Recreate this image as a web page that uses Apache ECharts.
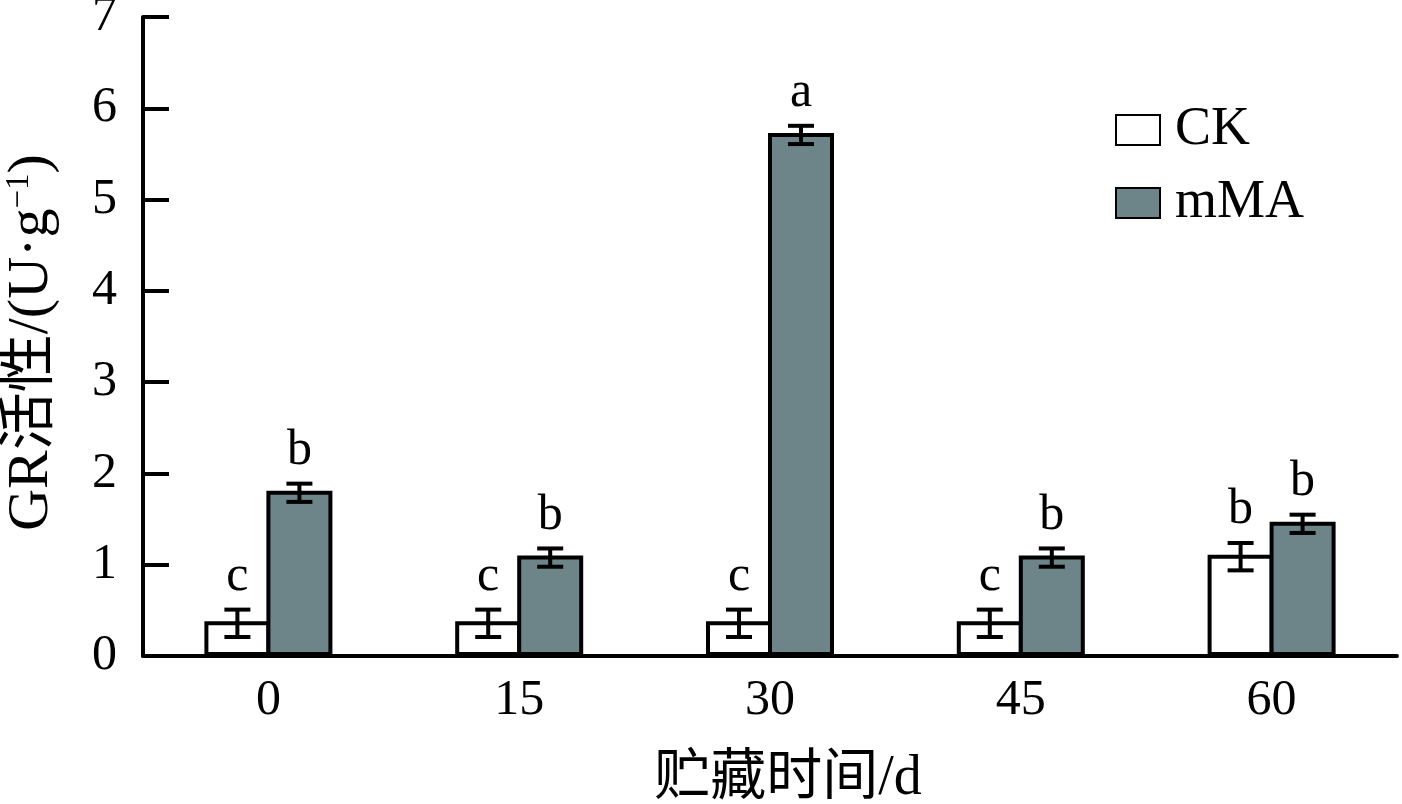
<!DOCTYPE html>
<html>
<head>
<meta charset="utf-8">
<script src="https://cdn.jsdelivr.net/npm/echarts@6/dist/echarts.min.js"></script>
<style>
  html, body { margin: 0; padding: 0; background: #fff; }
  #main { width: 1402px; height: 804px; }
</style>
</head>
<body>
<div id="main"></div>
<script>
// ---- data ----
const categories = ['0', '15', '30', '45', '60'];
const ckValues = [0.38, 0.38, 0.38, 0.38, 1.11];
const ckErr = [0.15, 0.15, 0.15, 0.15, 0.15];
const ckLetters = ['c', 'c', 'c', 'c', 'b'];
const mmaValues = [1.81, 1.10, 5.73, 1.10, 1.47];
const mmaErr = [0.10, 0.10, 0.10, 0.10, 0.10];
const mmaLetters = ['b', 'b', 'a', 'b', 'b'];
const yTicks = [0, 1, 2, 3, 4, 5, 6, 7];

const FONT = '"Liberation Serif", "Noto Sans CJK SC", serif';
const FS = 50;
const BAR_W = 66;
const BORDER = 4;

function errData(vals, errs, letters) {
  return vals.map((v, i) => [i, v, errs[i], letters[i]]);
}

function makeErrRender(sign) {
  return function (params, api) {
    const idx = api.value(0);
    const v = api.value(1);
    const e = api.value(2);
    const letter = api.value(3);
    const c = api.coord([idx, v]);
    const x = c[0] + sign * (BAR_W / 2 - BORDER / 2);
    const yTop = api.coord([idx, v + e])[1] + BORDER / 2;
    const yBot = api.coord([idx, v - e])[1] + BORDER / 2;
    const cap = 13;
    const ls = { stroke: '#000', lineWidth: 4 };
    return {
      type: 'group',
      children: [
        { type: 'line', shape: { x1: x, y1: yTop, x2: x, y2: yBot }, style: ls },
        { type: 'line', shape: { x1: x - cap, y1: yTop, x2: x + cap, y2: yTop }, style: ls },
        { type: 'line', shape: { x1: x - cap, y1: yBot, x2: x + cap, y2: yBot }, style: ls },
        { type: 'text', style: { text: letter, x: x, y: yTop - 8, textAlign: 'center', textVerticalAlign: 'bottom', fontSize: FS, fontFamily: FONT, fill: '#000' } }
      ]
    };
  };
}

const chart = echarts.init(document.getElementById('main'), null, { renderer: 'canvas' });
const option = {
  backgroundColor: '#fff',
  animation: false,
  grid: { left: 143, right: 5, top: 17, bottom: 148, containLabel: false, outerBoundsMode: 'none' },
  legend: {
    data: ['CK', 'mMA'],
    orient: 'vertical',
    left: 1115,
    top: 103,
    padding: 0,
    itemWidth: 44,
    itemHeight: 30,
    itemGap: 19,
    icon: 'rect',
    textStyle: { fontSize: 54, fontFamily: FONT, color: '#000', lineHeight: 50, padding: [0, 0, 0, 10] }
  },
  xAxis: {
    type: 'category',
    data: categories,
    name: '贮藏时间/d',
    nameLocation: 'middle',
    nameGap: 95,
    nameTextStyle: { fontSize: 56, fontFamily: FONT, color: '#000', lineHeight: 56, padding: [0, 0, 0, 36] },
    axisLine: { lineStyle: { color: '#000', width: 4 } },
    axisTick: { inside: true, length: 18, lineStyle: { color: '#000', width: 4 } },
    axisLabel: { fontSize: FS, fontFamily: FONT, color: '#000', margin: 20 }
  },
  yAxis: {
    type: 'value',
    min: 0,
    max: 7,
    interval: 1,
    name: '{n|GR活性/(U·g}{s|−1}{n|)}',
    nameLocation: 'middle',
    nameGap: 82,
    nameRotate: 90,
    nameTextStyle: {
      padding: [0, 12, 0, 0],
      rich: {
        n: { fontSize: 58, fontFamily: FONT, color: '#000', lineHeight: 58, verticalAlign: 'bottom' },
        s: { fontSize: 33, fontFamily: FONT, color: '#000', lineHeight: 58, verticalAlign: 'top' }
      }
    },
    splitLine: { show: false },
    axisLine: { show: true, lineStyle: { color: '#000', width: 4 } },
    axisTick: { show: true, inside: true, length: 26, lineStyle: { color: '#000', width: 4 } },
    axisLabel: {
      fontSize: FS, fontFamily: FONT, color: '#000', margin: 26,
      formatter: function (v) { return yTicks.indexOf(v) >= 0 ? String(v) : ''; }
    }
  },
  series: [
    {
      name: 'CK', type: 'bar', data: ckValues,
      barWidth: BAR_W, barGap: (-BORDER / BAR_W * 100) + '%',
      itemStyle: { color: '#ffffff', borderColor: '#000', borderWidth: BORDER }
    },
    {
      name: 'mMA', type: 'bar', data: mmaValues,
      barWidth: BAR_W, barGap: (-BORDER / BAR_W * 100) + '%',
      itemStyle: { color: '#6d8488', borderColor: '#000', borderWidth: BORDER }
    },
    {
      name: 'CK_err', type: 'custom', renderItem: makeErrRender(-1),
      data: errData(ckValues, ckErr, ckLetters), z: 10,
      encode: { x: 0, y: 1 }
    },
    {
      name: 'mMA_err', type: 'custom', renderItem: makeErrRender(1),
      data: errData(mmaValues, mmaErr, mmaLetters), z: 10,
      encode: { x: 0, y: 1 }
    }
  ]
};
chart.setOption(option);
</script>
</body>
</html>
